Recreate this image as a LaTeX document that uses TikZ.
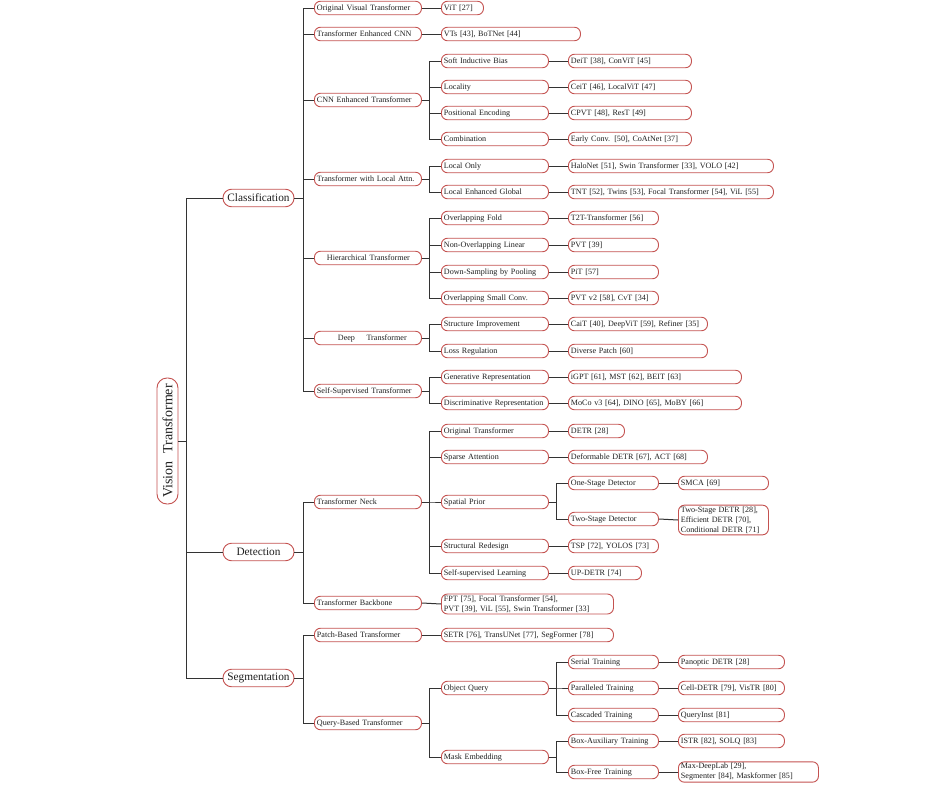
\documentclass[tikz,border=0pt]{standalone}
\usepackage{fontspec}
\setmainfont{Liberation Serif}
\definecolor{bred}{RGB}{196,82,80}
\begin{document}
\begin{tikzpicture}[x=1pt,y=-1pt,
  nd/.style={draw=bred, line width=0.9pt, rounded corners=6pt, minimum height=13.5pt,
    inner xsep=2.5pt, inner ysep=1.5pt, align=left, anchor=west,
    text height=5.9pt, text depth=1.7pt,
    font=\fontsize{8.1}{10}\selectfont, text=black!88, fill=white},
  ml/.style={text height=, text depth=},
  lone/.style={draw=bred, line width=0.9pt, rounded corners=8.5pt, minimum height=17.5pt,
    minimum width=71pt, inner sep=1pt, anchor=center,
    font=\fontsize{11.3}{13}\selectfont, text=black!88, fill=white},
  rootbox/.style={draw=bred, line width=0.9pt, rounded corners=10pt, minimum height=21pt,
    minimum width=126pt, inner sep=1pt, anchor=center, rotate=90,
    font=\fontsize{14}{16}\selectfont, text=black!88, fill=white},
  cn/.style={draw=black!80, line width=1pt}
]
\fill[white] (0,0) rectangle (946,795);
\useasboundingbox (0,0) rectangle (946,795);

% root and level 1
\node[rootbox] (vt) at (167.5,441) {Vision\hspace{0.55em}Transformer};
\node[lone] (cls) at (258.5,198) {Classification};
\node[lone] (det) at (258.5,552) {Detection};
\node[lone] (seg) at (258.5,678) {Segmentation};

% level 2
\node[nd, text width=102pt] (ovt) at (314,8) {Original Visual Transformer};
\node[nd, text width=102pt] (tec) at (314,34) {Transformer Enhanced CNN};
\node[nd, text width=102pt] (cet) at (314,100) {CNN Enhanced Transformer};
\node[nd, text width=102pt] (tla) at (314,179) {Transformer with Local Attn.};
\node[nd, text width=102pt] (ht) at (314,258) {\hspace*{10pt}Hierarchical Transformer};
\node[nd, text width=102pt] (dt) at (314,338) {\hspace*{21pt}Deep\hspace{11.5pt}Transformer};
\node[nd, text width=102pt] (sst) at (314,391) {Self-Supervised Transformer};
\node[nd, text width=102pt] (tn) at (314,502) {Transformer Neck};
\node[nd, text width=102pt] (tbk) at (314,603) {Transformer Backbone};
\node[nd, text width=102pt] (pbt) at (314,635) {Patch-Based Transformer};
\node[nd, text width=102pt] (qbt) at (314,723) {Query-Based Transformer};

% level 2 leaves
\node[nd, text width=37pt] (vit) at (441,8) {ViT [27]};
\node[nd, text width=134pt] (vts) at (441,34) {VTs [43], BoTNet [44]};
\node[nd, ml, text width=167pt] (fpt) at (441,604) {FPT [75], Focal Transformer [54],\\PVT [39], ViL [55], Swin Transformer [33]};
\node[nd, text width=167pt] (setr) at (441,635) {SETR [76], TransUNet [77], SegFormer [78]};

% level 3
\node[nd, text width=102pt] (sib) at (441,61) {Soft Inductive Bias};
\node[nd, text width=102pt] (loc) at (441,87) {Locality};
\node[nd, text width=102pt] (pe) at (441,113) {Positional Encoding};
\node[nd, text width=102pt] (comb) at (441,139) {Combination};
\node[nd, text width=102pt] (lo) at (441,166) {Local Only};
\node[nd, text width=102pt] (leg) at (441,192) {Local Enhanced Global};
\node[nd, text width=102pt] (of) at (441,218) {Overlapping Fold};
\node[nd, text width=102pt] (nol) at (441,245) {Non-Overlapping Linear};
\node[nd, text width=102pt] (dsp) at (441,272) {Down-Sampling by Pooling};
\node[nd, text width=102pt] (osc) at (441,298) {Overlapping Small Conv.};
\node[nd, text width=102pt] (si) at (441,324) {Structure Improvement};
\node[nd, text width=102pt] (lr) at (441,351) {Loss Regulation};
\node[nd, text width=102pt] (gr) at (441,377) {Generative Representation};
\node[nd, text width=102pt] (dr) at (441,403) {Discriminative Representation};
\node[nd, text width=102pt] (ot) at (441,431) {Original Transformer};
\node[nd, text width=102pt] (sa) at (441,457) {Sparse Attention};
\node[nd, text width=102pt] (sp) at (441,502) {Spatial Prior};
\node[nd, text width=102pt] (sr) at (441,546) {Structural Redesign};
\node[nd, text width=102pt] (ssl) at (441,573) {Self-supervised Learning};
\node[nd, text width=102pt] (oq) at (441,688) {Object Query};
\node[nd, text width=102pt] (me) at (441,757) {Mask Embedding};

% level 4
\node[nd, text width=118pt] (deit) at (568,61) {DeiT [38], ConViT [45]};
\node[nd, text width=118pt] (ceit) at (568,87) {CeiT [46], LocalViT [47]};
\node[nd, text width=118pt] (cpvt) at (568,113) {CPVT [48], ResT [49]};
\node[nd, text width=118pt] (early) at (568,139) {Early Conv. [50], CoAtNet [37]};
\node[nd, text width=200pt] (halo) at (568,166) {HaloNet [51], Swin Transformer [33], VOLO [42]};
\node[nd, text width=200pt] (tnt) at (568,192) {TNT [52], Twins [53], Focal Transformer [54], ViL [55]};
\node[nd, text width=85pt] (t2t) at (568,218) {T2T-Transformer [56]};
\node[nd, text width=85pt] (pvt) at (568,245) {PVT [39]};
\node[nd, text width=85pt] (pit) at (568,272) {PiT [57]};
\node[nd, text width=85pt] (pvtt) at (568,298) {PVT v2 [58], CvT [34]};
\node[nd, text width=134pt] (cait) at (568,324) {CaiT [40], DeepViT [59], Refiner [35]};
\node[nd, text width=134pt] (div) at (568,351) {Diverse Patch [60]};
\node[nd, text width=168pt] (igpt) at (568,377) {iGPT [61], MST [62], BEIT [63]};
\node[nd, text width=168pt] (moco) at (568,403) {MoCo v3 [64], DINO [65], MoBY [66]};
\node[nd, text width=51pt] (detr) at (568,431) {DETR [28]};
\node[nd, text width=134pt] (defo) at (568,457) {Deformable DETR [67], ACT [68]};
\node[nd, text width=85pt] (osd) at (568,483) {One-Stage Detector};
\node[nd, text width=85pt] (tsd) at (568,519) {Two-Stage Detector};
\node[nd, text width=85pt] (tsp) at (568,546) {TSP [72], YOLOS [73]};
\node[nd, text width=68pt] (updetr) at (568,573) {UP-DETR [74]};
\node[nd, text width=85pt] (serial) at (568,662) {Serial Training};
\node[nd, text width=85pt] (para) at (568,688) {Paralleled Training};
\node[nd, text width=85pt] (casc) at (568,715) {Cascaded Training};
\node[nd, text width=85pt] (boxaux) at (568,741) {Box-Auxiliary Training};
\node[nd, text width=85pt] (boxfree) at (568,772) {Box-Free Training};

% level 5
\node[nd, text width=85pt] (smca) at (678,483) {SMCA [69]};
\node[nd, ml, text width=85pt] (tsdetr) at (678,520) {Two-Stage DETR [28],\\Efficient DETR [70],\\Conditional DETR [71]};
\node[nd, text width=101pt] (panop) at (678,662) {Panoptic DETR [28]};
\node[nd, text width=101pt] (cell) at (678,688) {Cell-DETR [79], VisTR [80]};
\node[nd, text width=101pt] (qinst) at (678,715) {QueryInst [81]};
\node[nd, text width=101pt] (istr) at (678,741) {ISTR [82], SOLQ [83]};
\node[nd, ml, text width=135pt] (maxdl) at (678,772) {Max-DeepLab [29],\\Segmenter [84], Maskformer [85]};

% connectors: root
\foreach \c in {cls,det,seg} \draw[cn] (vt.south) -- ++(8.5,0) |- (\c.west);
% level 1 -> level 2
\foreach \c in {ovt,tec,cet,tla,ht,dt,sst} \draw[cn] (cls.east) -- ++(9,0) |- (\c.west);
\foreach \c in {tn,tbk} \draw[cn] (det.east) -- ++(9,0) |- (\c.west);
\foreach \c in {pbt,qbt} \draw[cn] (seg.east) -- ++(9,0) |- (\c.west);
% level 2 -> level 3
\foreach \c in {sib,loc,pe,comb} \draw[cn] (cet.east) -- ++(8,0) |- (\c.west);
\foreach \c in {lo,leg} \draw[cn] (tla.east) -- ++(8,0) |- (\c.west);
\foreach \c in {of,nol,dsp,osc} \draw[cn] (ht.east) -- ++(8,0) |- (\c.west);
\foreach \c in {si,lr} \draw[cn] (dt.east) -- ++(8,0) |- (\c.west);
\foreach \c in {gr,dr} \draw[cn] (sst.east) -- ++(8,0) |- (\c.west);
\foreach \c in {ot,sa,sp,sr,ssl} \draw[cn] (tn.east) -- ++(8,0) |- (\c.west);
\foreach \c in {oq,me} \draw[cn] (qbt.east) -- ++(8,0) |- (\c.west);
% level 2 leaves
\draw[cn] (ovt.east) -- (vit.west);
\draw[cn] (tec.east) -- (vts.west);
\draw[cn] (tbk.east) -- (fpt.west);
\draw[cn] (pbt.east) -- (setr.west);
% level 3 -> level 4
\draw[cn] (sib.east) -- (deit.west);
\draw[cn] (loc.east) -- (ceit.west);
\draw[cn] (pe.east) -- (cpvt.west);
\draw[cn] (comb.east) -- (early.west);
\draw[cn] (lo.east) -- (halo.west);
\draw[cn] (leg.east) -- (tnt.west);
\draw[cn] (of.east) -- (t2t.west);
\draw[cn] (nol.east) -- (pvt.west);
\draw[cn] (dsp.east) -- (pit.west);
\draw[cn] (osc.east) -- (pvtt.west);
\draw[cn] (si.east) -- (cait.west);
\draw[cn] (lr.east) -- (div.west);
\draw[cn] (gr.east) -- (igpt.west);
\draw[cn] (dr.east) -- (moco.west);
\draw[cn] (ot.east) -- (detr.west);
\draw[cn] (sa.east) -- (defo.west);
\draw[cn] (sr.east) -- (tsp.west);
\draw[cn] (ssl.east) -- (updetr.west);
\foreach \c in {osd,tsd} \draw[cn] (sp.east) -- ++(8,0) |- (\c.west);
\foreach \c in {serial,para,casc} \draw[cn] (oq.east) -- ++(8,0) |- (\c.west);
\foreach \c in {boxaux,boxfree} \draw[cn] (me.east) -- ++(8,0) |- (\c.west);
% level 4 -> level 5
\draw[cn] (osd.east) -- (smca.west);
\draw[cn] (tsd.east) -- (tsdetr.west);
\draw[cn] (serial.east) -- (panop.west);
\draw[cn] (para.east) -- (cell.west);
\draw[cn] (casc.east) -- (qinst.west);
\draw[cn] (boxaux.east) -- (istr.west);
\draw[cn] (boxfree.east) -- (maxdl.west);
\end{tikzpicture}
\end{document}
